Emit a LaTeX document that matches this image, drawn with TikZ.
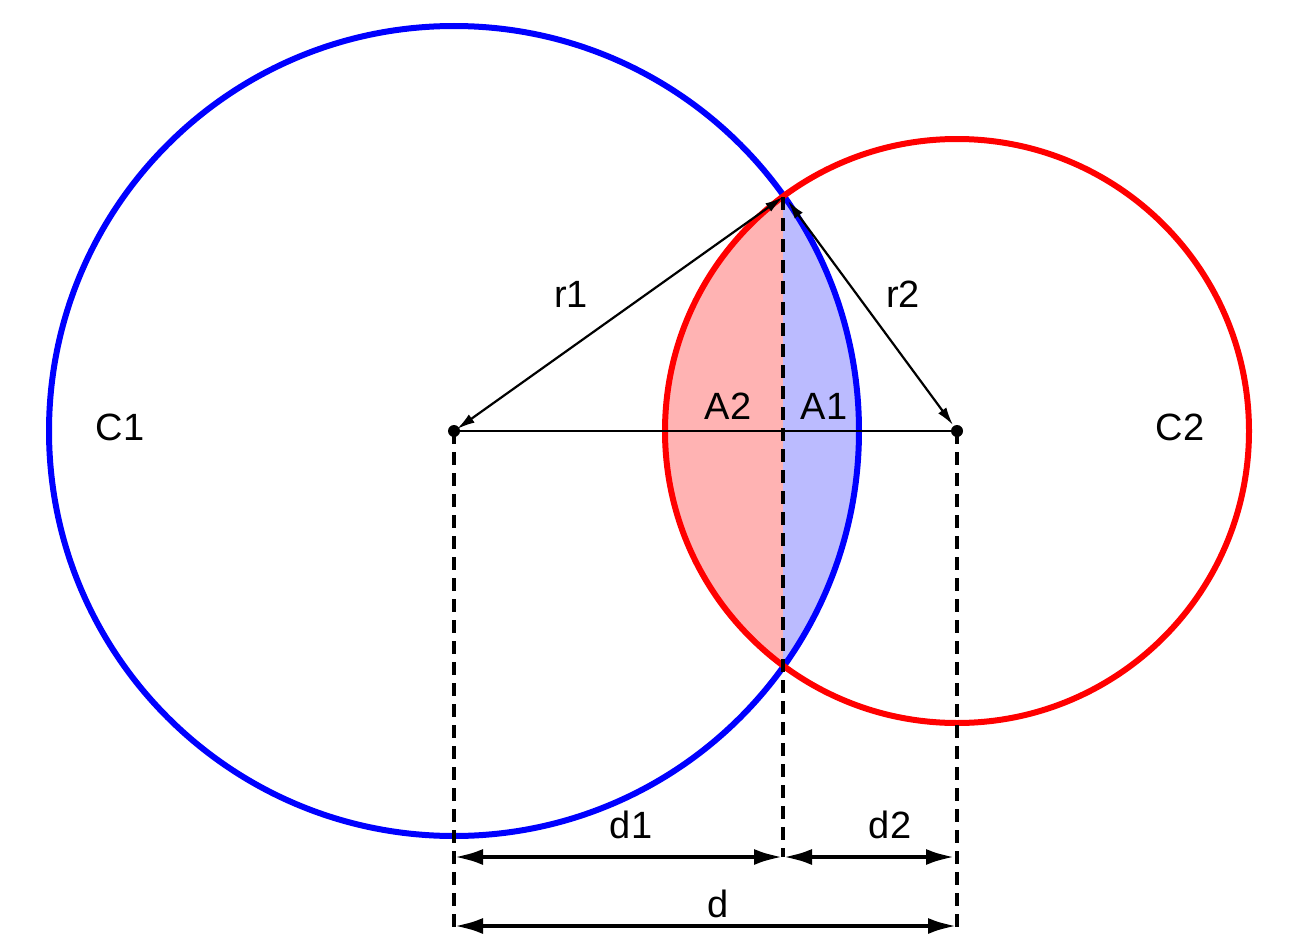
\documentclass[tikz,border=0pt]{standalone}
\usepackage{fontspec}
\setmainfont{Liberation Sans}
\usetikzlibrary{arrows.meta}
\definecolor{cblue}{RGB}{0,0,255}
\definecolor{cred}{RGB}{255,0,0}
\definecolor{fillred}{RGB}{255,179,179}
\definecolor{fillblue}{RGB}{187,187,255}
\tikzset{
  circ/.style={line width=6pt},
  thinline/.style={line width=2.2pt},
  radius arrow/.style={line width=2.2pt, {Latex[length=18pt,width=10pt]}-{Latex[length=18pt,width=10pt]}},
  dim arrow/.style={line width=4.5pt, {Latex[length=29pt,width=16pt]}-{Latex[length=29pt,width=16pt]}},
  dashline/.style={line width=3.5pt, dash pattern=on 13pt off 8pt},
  lbl/.style={font=\fontsize{38}{40}\selectfont, anchor=base, inner sep=0pt},
  dot/.style={circle, fill=black, inner sep=0pt, minimum size=12pt}
}
\begin{document}
\begin{tikzpicture}[x=1pt,y=-1pt]
\useasboundingbox (0,0) rectangle (1302,950);
\coordinate (O1) at (454,431);
\coordinate (O2) at (957,431);
\coordinate (P) at (783,197);
\coordinate (B1) at (454,927);
\coordinate (B2) at (957,927);
\coordinate (M1) at (783,857);
\coordinate (D1a) at (454,857);
\coordinate (D2b) at (955,857);
\coordinate (Da) at (454,926);
\coordinate (Db) at (957,926);
% fills
\begin{scope}
  \clip (0,0) rectangle (783,950);
  \fill[fillred] (O2) circle[radius=292];
\end{scope}
\begin{scope}
  \clip (783,0) rectangle (1302,950);
  \fill[fillblue] (O1) circle[radius=405];
\end{scope}
% circles
\draw[circ, cblue] (O1) circle[radius=405];
\draw[circ, cred] (O2) circle[radius=292];
% lines
\draw[thinline] (O1) -- (O2);
\draw[dashline] (O1) -- (B1);
\draw[dashline] (O2) -- (B2);
\draw[dashline] (P) -- (M1);
\node[dot] (c1) at (O1) {};
\node[dot] (c2) at (O2) {};
\draw[radius arrow] (P) -- ([shift={(3,-2)}]c1.center);
\draw[radius arrow] ([shift={(5,4)}]P) -- ([shift={(-4,-6)}]c2.center);
\draw[dim arrow] (D1a) -- (M1);
\draw[dim arrow] (M1) -- (D2b);
\draw[dim arrow] (Da) -- (Db);
% labels
\node[lbl] (lC1) at (120,440) {C1};
\node[lbl] (lC2) at (1180,440) {C2};
\node[lbl] (lr1) at (571,307) {r1};
\node[lbl] (lr2) at (903,307) {r2};
\node[lbl] (lA2) at (728,419) {A2};
\node[lbl] (lA1) at (824,419) {A1};
\node[lbl] (ld1) at (631,838) {d1};
\node[lbl] (ld2) at (890,838) {d2};
\node[lbl] (ld) at (718,917) {d};
\end{tikzpicture}
\end{document}
